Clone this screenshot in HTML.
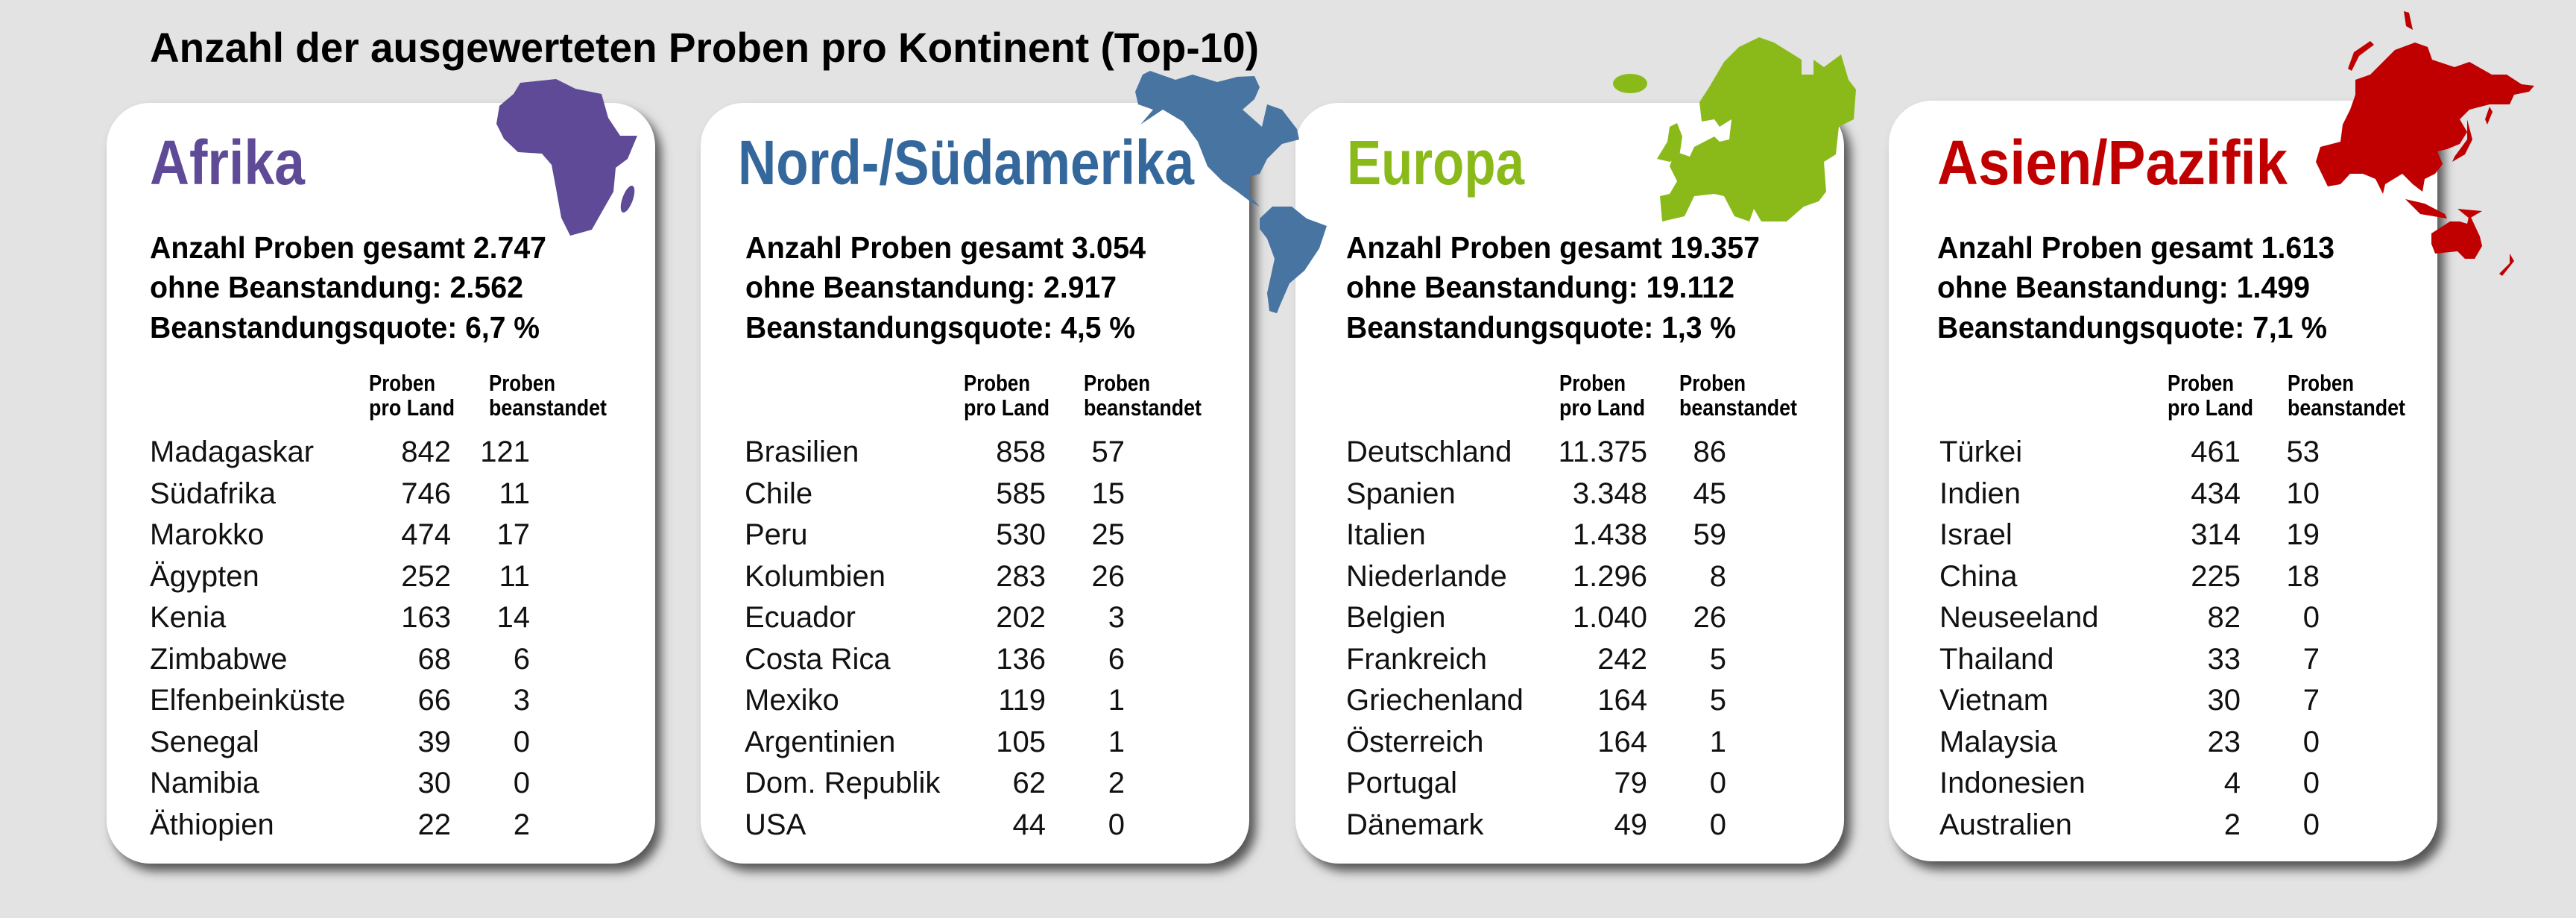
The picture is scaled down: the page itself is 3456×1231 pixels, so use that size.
<!DOCTYPE html>
<html><head><meta charset="utf-8"><style>
html,body{margin:0;padding:0;background:#e3e3e3;}
svg{display:block;}
text{font-family:"Liberation Sans Narrow","Liberation Sans",sans-serif;}
.t{font-weight:bold;font-size:56px;fill:#000;}
.h{font-weight:bold;font-size:84px;}
.s{font-weight:bold;font-size:41px;fill:#000;}
.c{font-weight:bold;font-size:31px;fill:#000;}
.r{font-family:"Liberation Sans",sans-serif;font-size:40px;fill:#111;}
.n{font-family:"Liberation Sans",sans-serif;font-size:40px;fill:#111;text-anchor:end;}
</style></head><body>
<svg width="3456" height="1231" viewBox="0 0 3456 1231" xmlns="http://www.w3.org/2000/svg">
<defs><filter id="sh" x="-10%" y="-10%" width="130%" height="130%"><feGaussianBlur stdDeviation="7"/></filter></defs>
<rect width="3456" height="1231" fill="#e3e3e3"/>
<text class="t" x="201" y="83" textLength="1488" lengthAdjust="spacingAndGlyphs">Anzahl der ausgewerteten Proben pro Kontinent (Top-10)</text>

<g>
<rect x="151" y="148" width="736" height="1020" rx="58" fill="#555" filter="url(#sh)"/>
<rect x="143" y="138" width="736" height="1020" rx="58" fill="#fff"/>
<rect x="949" y="148" width="736" height="1020" rx="58" fill="#555" filter="url(#sh)"/>
<rect x="940" y="138" width="736" height="1020" rx="58" fill="#fff"/>
<rect x="1747" y="148" width="736" height="1020" rx="58" fill="#555" filter="url(#sh)"/>
<rect x="1738" y="138" width="736" height="1020" rx="58" fill="#fff"/>
<rect x="2543" y="146" width="736" height="1020" rx="58" fill="#555" filter="url(#sh)"/>
<rect x="2534" y="135" width="736" height="1020" rx="58" fill="#fff"/>
</g>

<g fill="#5e4a96">
<polygon points="698,111 746,106 772,119 807,126 816,158 832,182 855,182 842,213 826,225 823,257 807,285 794,308 765,316 753,292 746,253 740,221 727,206 695,204 676,186 666,166 670,142 689,126"/>
<ellipse cx="842" cy="267" rx="7" ry="19" transform="rotate(20 842 267)"/>
</g>
<g fill="#4874a2">
<polygon points="1523,123 1533,100 1543,95 1577,107 1600,100 1633,110 1660,103 1683,102 1690,117 1683,133 1667,147 1693,170 1700,140 1720,147 1740,173 1743,187 1720,193 1700,213 1690,233 1677,237 1677,263 1690,277 1677,270 1660,257 1640,243 1620,223 1607,190 1587,163 1560,147 1530,167 1547,147 1527,140"/>
<polygon points="1690,293 1707,277 1733,277 1753,293 1780,303 1770,333 1750,363 1730,380 1717,410 1713,420 1703,417 1700,393 1710,347 1700,320 1690,307"/>
</g>
<g fill="#8aba1a">
<polygon points="2313,83 2333,63 2360,50 2380,57 2417,80 2417,100 2433,100 2433,80 2447,90 2470,73 2480,107 2490,120 2487,160 2467,170 2463,207 2447,217 2450,257 2440,270 2420,277 2397,297 2363,297 2353,280 2347,297 2327,290 2313,263 2300,260 2273,263 2260,290 2230,297 2227,263 2240,260 2250,243 2240,223 2247,203 2267,210 2273,197 2300,183 2307,190 2320,187 2323,160 2307,170 2300,160 2283,163 2280,137 2293,117"/>
<polygon points="2240,170 2250,165 2257,183 2253,210 2240,217 2223,213 2237,190"/>
<ellipse cx="2187" cy="112" rx="23" ry="13"/>
</g>
<g fill="#c00000">
<polygon points="3160,107 3180,100 3200,80 3213,67 3240,57 3257,63 3263,80 3293,90 3313,83 3343,100 3363,100 3383,113 3400,115 3393,123 3373,127 3367,140 3340,140 3313,147 3300,160 3310,177 3300,193 3283,200 3270,203 3277,220 3267,233 3253,240 3250,257 3237,247 3223,233 3200,247 3197,260 3187,240 3170,233 3153,233 3140,247 3123,250 3107,217 3113,197 3140,190 3143,167 3153,147 3160,127"/>
<polygon points="3180,55 3185,60 3165,75 3155,95 3150,92 3158,70"/>
<polygon points="3225,15 3232,17 3237,40 3228,35"/>
<polygon points="3227,267 3247,287 3283,293 3280,287 3253,273"/>
<polygon points="3310,160 3317,187 3307,207 3290,217 3293,210 3310,187"/>
<polygon points="3340,143 3344,150 3337,167 3334,160"/>
<polygon points="3262,313 3287,297 3300,297 3310,300 3313,287 3327,317 3330,330 3320,347 3307,347 3297,337 3267,340 3262,327"/>
<polygon points="3297,280 3330,283 3313,293"/>
<polygon points="3367,340 3373,350 3357,370 3353,367 3367,353"/>
</g>

<text class="h" x="201" y="247" fill="#5e4a96" textLength="208" lengthAdjust="spacingAndGlyphs">Afrika</text>
<text class="h" x="990" y="247" fill="#34679b" textLength="612" lengthAdjust="spacingAndGlyphs">Nord-/Südamerika</text>
<text class="h" x="1807" y="247" fill="#8aba1a" textLength="238" lengthAdjust="spacingAndGlyphs">Europa</text>
<text class="h" x="2599" y="247" fill="#c00000" textLength="470" lengthAdjust="spacingAndGlyphs">Asien/Pazifik</text>

<g class="s">
<text x="201" y="346" textLength="532" lengthAdjust="spacingAndGlyphs">Anzahl Proben gesamt 2.747</text>
<text x="201" y="399" textLength="501" lengthAdjust="spacingAndGlyphs">ohne Beanstandung: 2.562</text>
<text x="201" y="453" textLength="523" lengthAdjust="spacingAndGlyphs">Beanstandungsquote: 6,7 %</text>
<text x="1000" y="346" textLength="537" lengthAdjust="spacingAndGlyphs">Anzahl Proben gesamt 3.054</text>
<text x="1000" y="399" textLength="498" lengthAdjust="spacingAndGlyphs">ohne Beanstandung: 2.917</text>
<text x="1000" y="453" textLength="523" lengthAdjust="spacingAndGlyphs">Beanstandungsquote: 4,5 %</text>
<text x="1806" y="346" textLength="555" lengthAdjust="spacingAndGlyphs">Anzahl Proben gesamt 19.357</text>
<text x="1806" y="399" textLength="521" lengthAdjust="spacingAndGlyphs">ohne Beanstandung: 19.112</text>
<text x="1806" y="453" textLength="523" lengthAdjust="spacingAndGlyphs">Beanstandungsquote: 1,3 %</text>
<text x="2599" y="346" textLength="533" lengthAdjust="spacingAndGlyphs">Anzahl Proben gesamt 1.613</text>
<text x="2599" y="399" textLength="500" lengthAdjust="spacingAndGlyphs">ohne Beanstandung: 1.499</text>
<text x="2599" y="453" textLength="523" lengthAdjust="spacingAndGlyphs">Beanstandungsquote: 7,1 %</text>
</g>

<g class="c">
<text x="495" y="524" textLength="89" lengthAdjust="spacingAndGlyphs">Proben</text>
<text x="495" y="557" textLength="115" lengthAdjust="spacingAndGlyphs">pro Land</text>
<text x="656" y="524" textLength="89" lengthAdjust="spacingAndGlyphs">Proben</text>
<text x="656" y="557" textLength="158" lengthAdjust="spacingAndGlyphs">beanstandet</text>
<text x="1293" y="524" textLength="89" lengthAdjust="spacingAndGlyphs">Proben</text>
<text x="1293" y="557" textLength="115" lengthAdjust="spacingAndGlyphs">pro Land</text>
<text x="1454" y="524" textLength="89" lengthAdjust="spacingAndGlyphs">Proben</text>
<text x="1454" y="557" textLength="158" lengthAdjust="spacingAndGlyphs">beanstandet</text>
<text x="2092" y="524" textLength="89" lengthAdjust="spacingAndGlyphs">Proben</text>
<text x="2092" y="557" textLength="115" lengthAdjust="spacingAndGlyphs">pro Land</text>
<text x="2253" y="524" textLength="89" lengthAdjust="spacingAndGlyphs">Proben</text>
<text x="2253" y="557" textLength="158" lengthAdjust="spacingAndGlyphs">beanstandet</text>
<text x="2908" y="524" textLength="89" lengthAdjust="spacingAndGlyphs">Proben</text>
<text x="2908" y="557" textLength="115" lengthAdjust="spacingAndGlyphs">pro Land</text>
<text x="3069" y="524" textLength="89" lengthAdjust="spacingAndGlyphs">Proben</text>
<text x="3069" y="557" textLength="158" lengthAdjust="spacingAndGlyphs">beanstandet</text>
</g>

<g transform="translate(0,-4)">
<text class="r" x="201" y="623">Madagaskar</text><text class="n" x="605" y="623">842</text><text class="n" x="711" y="623">121</text>
<text class="r" x="201" y="679">Südafrika</text><text class="n" x="605" y="679">746</text><text class="n" x="711" y="679">11</text>
<text class="r" x="201" y="734">Marokko</text><text class="n" x="605" y="734">474</text><text class="n" x="711" y="734">17</text>
<text class="r" x="201" y="790">Ägypten</text><text class="n" x="605" y="790">252</text><text class="n" x="711" y="790">11</text>
<text class="r" x="201" y="845">Kenia</text><text class="n" x="605" y="845">163</text><text class="n" x="711" y="845">14</text>
<text class="r" x="201" y="901">Zimbabwe</text><text class="n" x="605" y="901">68</text><text class="n" x="711" y="901">6</text>
<text class="r" x="201" y="956">Elfenbeinküste</text><text class="n" x="605" y="956">66</text><text class="n" x="711" y="956">3</text>
<text class="r" x="201" y="1012">Senegal</text><text class="n" x="605" y="1012">39</text><text class="n" x="711" y="1012">0</text>
<text class="r" x="201" y="1067">Namibia</text><text class="n" x="605" y="1067">30</text><text class="n" x="711" y="1067">0</text>
<text class="r" x="201" y="1123">Äthiopien</text><text class="n" x="605" y="1123">22</text><text class="n" x="711" y="1123">2</text>
</g>
<g transform="translate(798,-4)">
<text class="r" x="201" y="623">Brasilien</text><text class="n" x="605" y="623">858</text><text class="n" x="711" y="623">57</text>
<text class="r" x="201" y="679">Chile</text><text class="n" x="605" y="679">585</text><text class="n" x="711" y="679">15</text>
<text class="r" x="201" y="734">Peru</text><text class="n" x="605" y="734">530</text><text class="n" x="711" y="734">25</text>
<text class="r" x="201" y="790">Kolumbien</text><text class="n" x="605" y="790">283</text><text class="n" x="711" y="790">26</text>
<text class="r" x="201" y="845">Ecuador</text><text class="n" x="605" y="845">202</text><text class="n" x="711" y="845">3</text>
<text class="r" x="201" y="901">Costa Rica</text><text class="n" x="605" y="901">136</text><text class="n" x="711" y="901">6</text>
<text class="r" x="201" y="956">Mexiko</text><text class="n" x="605" y="956">119</text><text class="n" x="711" y="956">1</text>
<text class="r" x="201" y="1012">Argentinien</text><text class="n" x="605" y="1012">105</text><text class="n" x="711" y="1012">1</text>
<text class="r" x="201" y="1067">Dom. Republik</text><text class="n" x="605" y="1067">62</text><text class="n" x="711" y="1067">2</text>
<text class="r" x="201" y="1123">USA</text><text class="n" x="605" y="1123">44</text><text class="n" x="711" y="1123">0</text>
</g>
<g transform="translate(1605,-4)">
<text class="r" x="201" y="623">Deutschland</text><text class="n" x="605" y="623">11.375</text><text class="n" x="711" y="623">86</text>
<text class="r" x="201" y="679">Spanien</text><text class="n" x="605" y="679">3.348</text><text class="n" x="711" y="679">45</text>
<text class="r" x="201" y="734">Italien</text><text class="n" x="605" y="734">1.438</text><text class="n" x="711" y="734">59</text>
<text class="r" x="201" y="790">Niederlande</text><text class="n" x="605" y="790">1.296</text><text class="n" x="711" y="790">8</text>
<text class="r" x="201" y="845">Belgien</text><text class="n" x="605" y="845">1.040</text><text class="n" x="711" y="845">26</text>
<text class="r" x="201" y="901">Frankreich</text><text class="n" x="605" y="901">242</text><text class="n" x="711" y="901">5</text>
<text class="r" x="201" y="956">Griechenland</text><text class="n" x="605" y="956">164</text><text class="n" x="711" y="956">5</text>
<text class="r" x="201" y="1012">Österreich</text><text class="n" x="605" y="1012">164</text><text class="n" x="711" y="1012">1</text>
<text class="r" x="201" y="1067">Portugal</text><text class="n" x="605" y="1067">79</text><text class="n" x="711" y="1067">0</text>
<text class="r" x="201" y="1123">Dänemark</text><text class="n" x="605" y="1123">49</text><text class="n" x="711" y="1123">0</text>
</g>
<g transform="translate(2401,-4)">
<text class="r" x="201" y="623">Türkei</text><text class="n" x="605" y="623">461</text><text class="n" x="711" y="623">53</text>
<text class="r" x="201" y="679">Indien</text><text class="n" x="605" y="679">434</text><text class="n" x="711" y="679">10</text>
<text class="r" x="201" y="734">Israel</text><text class="n" x="605" y="734">314</text><text class="n" x="711" y="734">19</text>
<text class="r" x="201" y="790">China</text><text class="n" x="605" y="790">225</text><text class="n" x="711" y="790">18</text>
<text class="r" x="201" y="845">Neuseeland</text><text class="n" x="605" y="845">82</text><text class="n" x="711" y="845">0</text>
<text class="r" x="201" y="901">Thailand</text><text class="n" x="605" y="901">33</text><text class="n" x="711" y="901">7</text>
<text class="r" x="201" y="956">Vietnam</text><text class="n" x="605" y="956">30</text><text class="n" x="711" y="956">7</text>
<text class="r" x="201" y="1012">Malaysia</text><text class="n" x="605" y="1012">23</text><text class="n" x="711" y="1012">0</text>
<text class="r" x="201" y="1067">Indonesien</text><text class="n" x="605" y="1067">4</text><text class="n" x="711" y="1067">0</text>
<text class="r" x="201" y="1123">Australien</text><text class="n" x="605" y="1123">2</text><text class="n" x="711" y="1123">0</text>
</g>
</svg>
</body></html>
